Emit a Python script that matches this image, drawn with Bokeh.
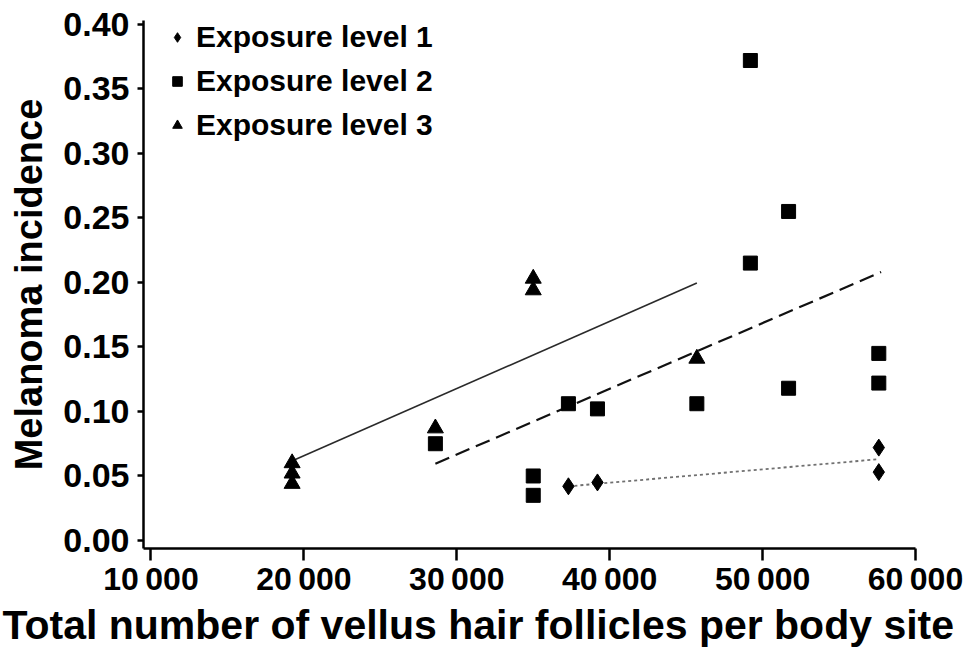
from bokeh.plotting import figure
from bokeh.models import Range1d, FixedTicker, Legend, LegendItem, Title
from bokeh.embed import file_html
from bokeh.resources import INLINE

# ---- data ----
x_ticks = [10000, 20000, 30000, 40000, 50000, 60000]
x_tick_labels = ["10\u2009000", "20\u2009000", "30\u2009000", "40\u2009000", "50\u2009000", "60\u2009000"]
y_ticks = [0.00, 0.05, 0.10, 0.15, 0.20, 0.25, 0.30, 0.35, 0.40]
y_tick_labels = ["0.00", "0.05", "0.10", "0.15", "0.20", "0.25", "0.30", "0.35", "0.40"]

series_names = ["Exposure level 1", "Exposure level 2", "Exposure level 3"]

lvl1_x = [37300, 39200, 57600, 57600]
lvl1_y = [0.042, 0.045, 0.072, 0.053]

lvl2_x = [28600, 35000, 35000, 37300, 39200, 45700, 49200, 49200, 51700, 51700, 57600, 57600]
lvl2_y = [0.075, 0.050, 0.035, 0.106, 0.102, 0.106, 0.372, 0.215, 0.255, 0.118, 0.145, 0.122]

lvl3_x = [19230, 19230, 19230, 28600, 35000, 35000, 45700]
lvl3_y = [0.060, 0.052, 0.044, 0.087, 0.203, 0.194, 0.141]

# fitted trend lines (end points)
fit1_x = [37300, 57600]
fit1_y = [0.042, 0.063]
fit2_x = [28600, 57750]
fit2_y = [0.0595, 0.208]
fit3_x = [19400, 45700]
fit3_y = [0.0626, 0.1995]

FONT = "Liberation Sans"

p = figure(
    width=970, height=651,
    x_range=Range1d(9510, 60000), y_range=Range1d(-0.0062, 0.403),
    output_backend="svg", toolbar_location=None,
    min_border_left=143, min_border_right=55, min_border_top=20, min_border_bottom=103,
)
p.outline_line_color = None
p.xgrid.grid_line_color = None
p.ygrid.grid_line_color = None
p.background_fill_color = "white"
p.border_fill_color = "white"

# trend lines
p.line(fit3_x, fit3_y, line_color="#2a2a2a", line_width=1.6)
p.line(fit2_x, fit2_y, line_color="#111111", line_width=2.2, line_dash="15 7")
p.line(fit1_x, fit1_y, line_color="#707070", line_width=1.8, line_dash="3 3")

# markers
r1 = p.scatter(lvl1_x, lvl1_y, marker="diamond", size=17, color="black")
r2 = p.scatter(lvl2_x, lvl2_y, marker="square", size=14, color="black")
r3 = p.scatter(lvl3_x, lvl3_y, marker="triangle", size=16, color="black")

# axes
for ax in (p.xaxis[0], p.yaxis[0]):
    ax.axis_line_color = "black"
    ax.axis_line_width = 2.5
    ax.major_tick_line_color = "black"
    ax.major_tick_line_width = 2.5
    ax.minor_tick_line_color = None
    ax.major_tick_in = 0
    ax.major_label_text_font = FONT
    ax.major_label_text_font_style = "bold"
    ax.major_label_text_color = "black"

p.xaxis.ticker = FixedTicker(ticks=x_ticks)
p.xaxis.major_label_overrides = dict(zip(x_ticks, x_tick_labels))
p.xaxis.major_tick_out = 12
p.xaxis.major_label_standoff = 0
p.xaxis.major_label_text_font_size = "32px"

p.yaxis.ticker = FixedTicker(ticks=y_ticks)
p.yaxis.major_label_overrides = dict(zip(y_ticks, y_tick_labels))
p.yaxis.major_tick_out = 6
p.yaxis.major_label_standoff = 8
p.yaxis.major_label_text_font_size = "34px"
p.yaxis.axis_label = "Melanoma incidence"
p.yaxis.axis_label_text_font = FONT
p.yaxis.axis_label_text_font_style = "bold"
p.yaxis.axis_label_text_font_size = "38px"
p.yaxis.axis_label_standoff = 10
p.yaxis.axis_label_text_color = "black"

xtitle = Title(text="Total number of vellus hair follicles per body site",
               align="left", offset=-141, standoff=0,
               text_font=FONT, text_font_style="bold", text_font_size="41px",
               text_color="black")
p.add_layout(xtitle, "below")

legend = Legend(
    items=[LegendItem(label=series_names[0], renderers=[r1]),
           LegendItem(label=series_names[1], renderers=[r2]),
           LegendItem(label=series_names[2], renderers=[r3])],
    location=(22, 406),
    glyph_width=24, glyph_height=34, label_height=34,
    label_standoff=7, spacing=10, padding=0, margin=0,
    border_line_color=None, background_fill_alpha=0,
    label_text_font=FONT, label_text_font_style="bold",
    label_text_font_size="30px", label_text_color="black",
)
p.add_layout(legend)

open("out.html", "w").write(file_html(p, INLINE))
